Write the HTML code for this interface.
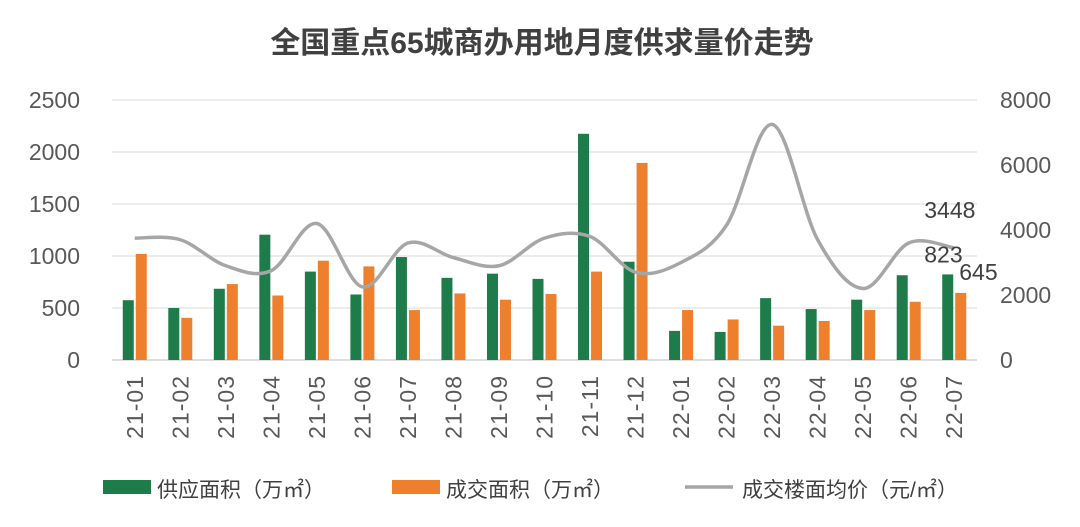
<!DOCTYPE html>
<html><head><meta charset="utf-8">
<style>
body{margin:0;background:#fff;}
svg text{font-family:"Liberation Sans","Noto Sans CJK SC",sans-serif;}
</style></head>
<body>
<svg id="chart" width="1080" height="522" viewBox="0 0 1080 522" xmlns="http://www.w3.org/2000/svg">
<text x="542" y="53" text-anchor="middle" font-size="30" font-weight="bold" fill="#404040">全国重点65城商办用地月度供求量价走势</text>
<g id="grid"></g><g id="bars"></g><g id="line"></g><g id="axes"></g>
<g>
<rect x="103" y="480" width="48" height="14" fill="#1e7b4a"/>
<text x="157" y="497" font-size="21" fill="#404040">供应面积（万㎡）</text>
<rect x="392" y="480" width="48" height="14" fill="#ee7f2d"/>
<text x="446" y="497" font-size="21" fill="#404040">成交面积（万㎡）</text>
<line x1="685" y1="487" x2="733" y2="487" stroke="#a6a6a6" stroke-width="3.5"/>
<text x="742" y="497" font-size="21" fill="#404040">成交楼面均价（元/㎡）</text>
</g>
</svg>
<script>
const categories=["21-01","21-02","21-03","21-04","21-05","21-06","21-07","21-08","21-09","21-10","21-11","21-12","22-01","22-02","22-03","22-04","22-05","22-06","22-07"];
const supply=[575,500,685,1205,850,630,990,790,830,780,2175,945,280,270,595,490,580,815,823];
const deal=[1020,405,730,620,955,900,480,640,580,635,850,1895,480,390,330,375,480,560,645];
const price=[3750,3700,2900,2750,4200,2250,3600,3150,2900,3750,3800,2700,3000,4150,7250,3700,2200,3600,3448];
const leftTicks=[0,500,1000,1500,2000,2500];
const rightTicks=[0,2000,4000,6000,8000];
const NS="http://www.w3.org/2000/svg";
const X0=112,X1=977,Y0=360,Y1=100;
const band=(X1-X0)/categories.length;
const xc=i=>X0+band*(i+0.5);
const yl=v=>Y0-(v/2500)*(Y0-Y1);
const yr=v=>Y0-(v/8000)*(Y0-Y1);
function mk(tag,attrs,parent){const e=document.createElementNS(NS,tag);for(const k in attrs)e.setAttribute(k,attrs[k]);document.getElementById(parent).appendChild(e);return e;}
leftTicks.forEach(t=>{
  const g=mk('line',{x1:X0,x2:X1,y1:yl(t),y2:yl(t),stroke:t===0?'#bfbfbf':'#d9d9d9','stroke-width':1},'grid');
  
  
  const tx=mk('text',{x:80,y:yl(t)+8,'text-anchor':'end','font-size':23,fill:'#595959'},'axes');tx.textContent=t;
  
  
});
rightTicks.forEach(t=>{
  const tx=mk('text',{x:1000,y:yr(t)+8,'font-size':23,fill:'#595959'},'axes');tx.textContent=t;
  
  
});
const bw=11;
categories.forEach((c,i)=>{
  const r1=mk('rect',{x:xc(i)-bw-1,y:yl(supply[i]),width:bw,height:Y0-yl(supply[i]),fill:'#1e7b4a'},'bars');
  
  
  const r2=mk('rect',{x:xc(i)+1,y:yl(deal[i]),width:bw,height:Y0-yl(deal[i]),fill:'#ee7f2d'},'bars');
  
  
  const tx=mk('text',{x:0,y:0,'text-anchor':'end','font-size':23,'letter-spacing':'1',fill:'#595959',transform:`translate(${xc(i)+8},375) rotate(-90)`},'axes');tx.textContent=c;
  
  
});
const pts=price.map((v,i)=>[xc(i),yr(v)]);
let d=`M${pts[0][0]},${pts[0][1]}`;
for(let i=0;i<pts.length-1;i++){
  const p0=pts[i-1]||pts[i],p1=pts[i],p2=pts[i+1],p3=pts[i+2]||p2;
  const t=6;
  d+=` C${p1[0]+(p2[0]-p0[0])/t},${p1[1]+(p2[1]-p0[1])/t} ${p2[0]-(p3[0]-p1[0])/t},${p2[1]-(p3[1]-p1[1])/t} ${p2[0]},${p2[1]}`;
}
const ln=mk('path',{d:d,fill:'none',stroke:'#a6a6a6','stroke-width':3.5},'line');


const n=categories.length-1;
[[price[n],xc(n)-30,yr(price[n])-30],[supply[n],xc(n)-30,yl(supply[n])-12],[deal[n],xc(n)+5,yl(deal[n])-13]].forEach(([v,x,y])=>{
  const tx=mk('text',{x:x,y:y,'font-size':23,fill:'#404040'},'line');tx.textContent=v;
  
  
});
</script>
</body></html>
